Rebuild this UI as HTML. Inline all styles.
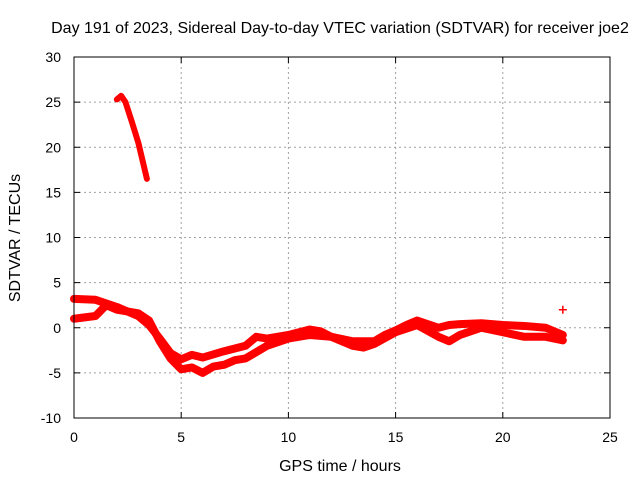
<!DOCTYPE html>
<html><head><meta charset="utf-8"><style>
body{margin:0;background:#fff}
svg text{font-family:"Liberation Sans",sans-serif;font-size:14px;fill:#000}
svg text.big{font-size:16px}
</style></head><body>
<svg id="chart" width="640" height="480" xmlns="http://www.w3.org/2000/svg">
<rect width="640" height="480" fill="#fff"/>
<text class="big" x="340" y="33" text-anchor="middle">Day 191 of 2023, Sidereal Day-to-day VTEC variation (SDTVAR) for receiver joe2</text>
<g id="grid"></g><g id="ticks"></g><g id="series"></g>
<rect x="74" y="57" width="536" height="361" fill="none" stroke="#000" stroke-width="1"/>
<text class="big" x="340" y="471" text-anchor="middle">GPS time / hours</text>
<text class="big" transform="translate(20,238) rotate(-90)" text-anchor="middle">SDTVAR / TECUs</text>
</svg>
<script>
const xTicks=[0,5,10,15,20,25];
const yTicks=[-10,-5,0,5,10,15,20,25,30];
const upperT=[0,1,2,3,3.5,4,4.5,5,5.5,6,7,8,8.5,9,10,11,11.5,12,13,14,14.5,15,15.5,16,17,17.5,18,19,20,21,22,22.8];
const upperV=[3.2,3.1,2.3,1.3,0.3,-1.2,-2.8,-3.5,-3.0,-3.3,-2.6,-2.0,-1.0,-1.2,-0.8,-0.2,-0.4,-1.0,-1.5,-1.5,-0.8,-0.3,0.3,0.8,0.0,0.3,0.4,0.5,0.3,0.2,0.0,-0.8];
const lowerT=[0,1,1.5,2,3,3.5,4,4.5,5,5.5,6,6.5,7,7.5,8,9,10,11,12,13,13.5,14,15,16,17,17.5,18,19,20,21,22,22.8];
const lowerV=[1.0,1.3,2.5,2.0,1.6,0.8,-1.5,-3.4,-4.6,-4.4,-5.0,-4.3,-4.1,-3.6,-3.4,-2.0,-1.2,-0.8,-1.0,-2.0,-2.2,-1.8,-0.5,0.3,-1.0,-1.5,-0.8,0.0,-0.5,-1.0,-1.0,-1.4];
const earlyT=[2,2.2,2.4,2.7,3,3.4];
const earlyV=[25.3,25.7,25.0,22.8,20.5,16.5];
const outlierT=[22.8];
const outlierV=[2.0];
const X=t=>74+t*536/25;
const Y=v=>418-(v+10)*361/40;
const NS='http://www.w3.org/2000/svg';
function mk(tag,attrs,parent){const e=document.createElementNS(NS,tag);for(const k in attrs)e.setAttribute(k,attrs[k]);parent.appendChild(e);return e;}
const grid=document.getElementById('grid'),ticks=document.getElementById('ticks'),series=document.getElementById('series');
xTicks.forEach(t=>{
 if(t>0&&t<25){const g=mk('line',{x1:X(t),x2:X(t),y1:57,y2:418,stroke:'#a0a0a0','stroke-dasharray':'2,3'},grid);
 
 }
 mk('line',{x1:X(t),x2:X(t),y1:418,y2:412,stroke:'#000'},ticks);
 mk('line',{x1:X(t),x2:X(t),y1:57,y2:63,stroke:'#000'},ticks);
 const l=mk('text',{x:X(t),y:442,'text-anchor':'middle'},ticks);l.textContent=t;
 
 
});
yTicks.forEach(v=>{
 if(v>-10&&v<30){const g=mk('line',{x1:74,x2:610,y1:Y(v),y2:Y(v),stroke:'#a0a0a0','stroke-dasharray':'2,3'},grid);
 
 }
 mk('line',{x1:74,x2:80,y1:Y(v),y2:Y(v),stroke:'#000'},ticks);
 mk('line',{x1:610,x2:604,y1:Y(v),y2:Y(v),stroke:'#000'},ticks);
 const l=mk('text',{x:61,y:Y(v)+5,'text-anchor':'end'},ticks);l.textContent=v;
 
 
});
function track(T,V,w,name){
 const p=mk('polyline',{points:T.map((t,i)=>X(t)+','+Y(V[i])).join(' '),fill:'none',stroke:'#f00','stroke-width':w,'stroke-linejoin':'round','stroke-linecap':'round'},series);
 
 
}
track(upperT,upperV,8,'series-upper-track');
track(lowerT,lowerV,8,'series-lower-track');
track(earlyT,earlyV,6,'series-early-track');
outlierT.forEach((t,i)=>{
 const g=mk('path',{d:`M${X(t)-4},${Y(outlierV[i])}h8M${X(t)},${Y(outlierV[i])-4}v8`,stroke:'#f00','stroke-width':1.5},series);
 
 
});
</script>
</body></html>
